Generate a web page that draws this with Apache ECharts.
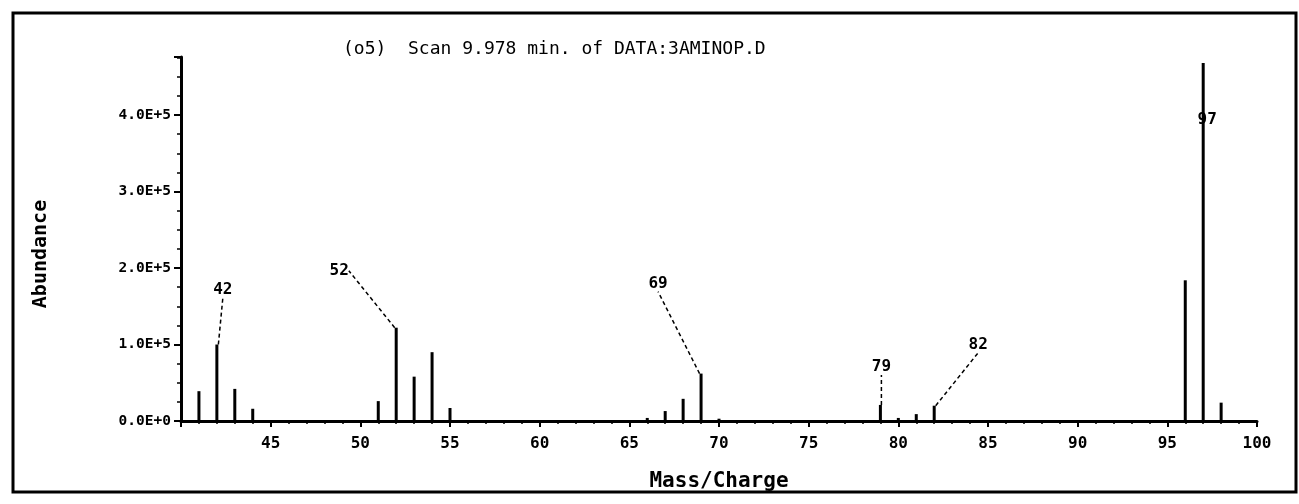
<!DOCTYPE html>
<html>
<head>
<meta charset="utf-8">
<title>Scan 9.978 min. of DATA:3AMINOP.D</title>
<script src="https://cdn.jsdelivr.net/npm/echarts@6/dist/echarts.min.js"></script>
<style>
  html, body { margin: 0; padding: 0; background: #fff; }
  #chart { width: 1299px; height: 504px; }
</style>
</head>
<body>
<div id="chart"></div>
<script>
// Mass spectrum peaks: m/z and abundance
const massToCharge = [41, 42, 43, 44, 51, 52, 53, 54, 55, 66, 67, 68, 69, 70, 79, 80, 81, 82, 96, 97, 98];
const abundance    = [39000, 100000, 42000, 16000, 26000, 122000, 58000, 90000, 17000, 4000, 13000, 29000, 62000, 3000, 21000, 4000, 9000, 20000, 184000, 468000, 24000];

// Peaks that carry an m/z annotation
const labelledPeaks = [42, 52, 69, 79, 82, 97];

// Axis tick values
const massTicks = [45, 50, 55, 60, 65, 70, 75, 80, 85, 90, 95, 100];
const abundanceTicks = [0, 100000, 200000, 300000, 400000];

const titleText = '(o5)  Scan 9.978 min. of DATA:3AMINOP.D';

// Annotation offsets (px) from each bar's default top label spot
const labelShift = {
  42: [6, -42],
  52: [-57, -44],
  69: [-43, -77],
  79: [1, -25],
  82: [44, -48],
  97: [4, 70]
};

const FONT = 'DejaVu Sans Mono';

const chart = echarts.init(document.getElementById('chart'), null, { renderer: 'canvas' });

const seriesData = massToCharge.map((m, i) => {
  const item = { value: [m, abundance[i]] };
  if (labelledPeaks.indexOf(m) >= 0) {
    item.label = { show: true, formatter: String(m) };
    item.labelLine = { show: m !== 97 };
  }
  return item;
});

chart.setOption({
  animation: false,
  backgroundColor: '#ffffff',
  textStyle: { fontFamily: FONT, color: '#000' },
  title: {
    text: titleText,
    left: 338,
    top: 35,
    textStyle: { fontFamily: FONT, fontSize: 18, fontWeight: 'normal', color: '#000' }
  },
  graphic: [{
    type: 'rect',
    shape: { x: 13, y: 13, width: 1283, height: 479 },
    style: { fill: 'none', stroke: '#000', lineWidth: 3 },
    silent: true
  }],
  grid: { left: 181, right: 42, top: 57, bottom: 83, containLabel: false },
  xAxis: {
    type: 'value',
    min: 40,
    max: 100,
    interval: 5,
    name: 'Mass/Charge',
    nameLocation: 'middle',
    nameGap: 50,
    nameTextStyle: { fontFamily: FONT, fontSize: 21, fontWeight: 'bold', color: '#000' },
    axisLine: { show: true, lineStyle: { color: '#000', width: 3 } },
    axisTick: { show: true, inside: false, length: 6, lineStyle: { color: '#000', width: 2 } },
    minorTick: { show: true, splitNumber: 5, length: 3, lineStyle: { color: '#000', width: 1.5 } },
    splitLine: { show: false },
    axisLabel: {
      fontFamily: FONT, fontSize: 16, fontWeight: 'bold', color: '#000', margin: 15,
      formatter: v => (massTicks.indexOf(v) >= 0 ? String(v) : '')
    }
  },
  yAxis: {
    type: 'value',
    min: 0,
    max: 476000,
    interval: 100000,
    name: 'Abundance',
    nameLocation: 'middle',
    nameGap: 130,
    nameTextStyle: { fontFamily: FONT, fontSize: 20, fontWeight: 'bold', color: '#000', padding: [0, 30, 0, 0] },
    axisLine: { show: true, lineStyle: { color: '#000', width: 3 } },
    axisTick: { show: true, inside: false, length: 7, lineStyle: { color: '#000', width: 2 } },
    minorTick: { show: true, splitNumber: 4, length: 4, lineStyle: { color: '#000', width: 1.5 } },
    splitLine: { show: false },
    axisLabel: {
      fontFamily: FONT, fontSize: 14.5, fontWeight: 'bold', color: '#000', margin: 10,
      formatter: v => {
        if (abundanceTicks.indexOf(v) < 0) return '';
        if (v === 0) return '0.0E+0';
        return (v / 100000).toFixed(1) + 'E+5';
      }
    }
  },
  series: [{
    type: 'bar',
    data: seriesData,
    barWidth: 3,
    itemStyle: { color: '#000' },
    label: {
      show: false,
      position: 'top',
      fontFamily: FONT,
      fontSize: 16,
      fontWeight: 'bold',
      color: '#000'
    },
    labelLine: {
      show: false,
      lineStyle: { color: '#000', width: 1.5, type: [4, 3] }
    },
    labelLayout: params => {
      const m = massToCharge[params.dataIndex];
      const s = labelShift[m];
      return s ? { dx: s[0], dy: s[1] } : {};
    }
  }]
});
</script>
</body>
</html>
